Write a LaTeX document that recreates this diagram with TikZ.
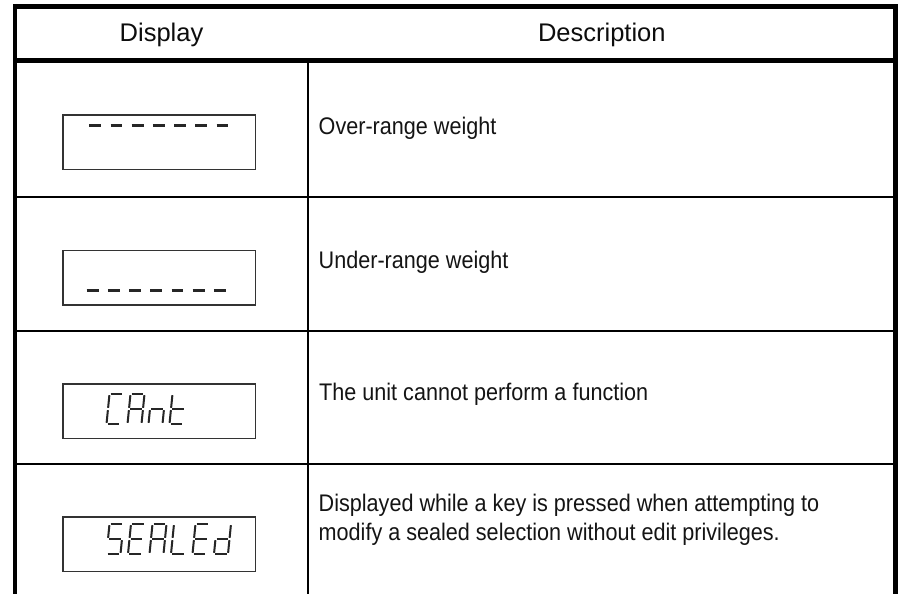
\documentclass[tikz,border=0pt]{standalone}
\usepackage{fontspec}
\setmainfont{Liberation Sans}
\newfontfamily\narrowfont[FakeStretch=0.9]{Liberation Sans}

% seven-segment strokes inside a 30 unit tall, slightly slanted cell
% (origin = top-left of the cell, y grows downward)
\newcommand\sgA{\draw[segline] (4.2,0)--(15.8,0);}
\newcommand\sgB{\draw[segline] (16.88,1.2)--(15.62,13.8);}
\newcommand\sgC{\draw[segline] (15.38,16.2)--(14.12,28.8);}
\newcommand\sgD{\draw[segline] (1.2,30)--(12.8,30);}
\newcommand\sgE{\draw[segline] (1.38,16.2)--(0.12,28.8);}
\newcommand\sgF{\draw[segline] (2.88,1.2)--(1.62,13.8);}
\newcommand\sgG{\draw[segline] (2.7,15)--(14.3,15);}
% letters
\newcommand\lcC{\sgA\sgD\sgE\sgF}
\newcommand\lcA{\sgA\sgB\sgC\sgE\sgF\sgG}
\newcommand\lcn{\sgC\sgE\sgG}
\newcommand\lct{\sgD\sgE\sgF\sgG}
\newcommand\lcS{\sgA\sgC\sgD\sgF\sgG}
\newcommand\lcE{\sgA\sgD\sgE\sgF\sgG}
\newcommand\lcL{\sgD\sgE\sgF}
\newcommand\lcd{\sgB\sgC\sgD\sgE\sgG}
\newcommand\lcdchar[3]{\begin{scope}[shift={(#1,#2)}]#3\end{scope}}

\begin{document}
\begin{tikzpicture}[x=1pt,y=-1pt,
  frame/.style={line width=5pt,black,line join=miter},
  grid/.style={line width=2pt,black},
  dispbox/.style={draw=black!80,line width=1.3pt,minimum width=192.5pt,minimum height=54.5pt,inner sep=0pt},
  dashseg/.style={line width=3pt,black!85},
  segline/.style={line width=2pt,black!85,line cap=butt},
  head/.style={inner sep=0pt,font=\fontsize{25.5}{30}\selectfont,text=black!95},
  desc/.style={inner sep=0pt,anchor=base west,font=\narrowfont\fontsize{24}{29}\selectfont,text=black!92}]
\useasboundingbox (0,0) rectangle (903,594);
\fill[white] (0,0) rectangle (903,594);

% table rules
\draw[grid] (15,196.7) -- (895.5,196.7);
\draw[grid] (15,330.7) -- (895.5,330.7);
\draw[grid] (15,464) -- (895.5,464);
\draw[grid] (308.3,60) -- (308.3,594);
\draw[frame] (15,60.3) -- (895.5,60.3);
\draw[frame] (895.5,594) -- (895.5,6.3) -- (15,6.3);
\draw[line width=4pt] (15,4) -- (15,594);

% header
\node[head,anchor=base] (hdisp) at (161.5,41.5) {Display};
\node[head,anchor=base] (hdesc) at (601.8,41.5) {Description};

% displays
\node[dispbox] (box1) at (159.2,142.2) {};
\node[dispbox] (box2) at (159.2,277.7) {};
\node[dispbox] (box3) at (159.2,411.3) {};
\node[dispbox] (box4) at (159.2,544.3) {};

\foreach \i in {0,...,6}{
  \draw[dashseg] ({89.3+21.2*\i},125) -- ++(11.8,0);
  \draw[dashseg] ({86.7+21.2*\i},290.7) -- ++(11.8,0);
}

% CAnt
\lcdchar{106.5}{394}{\lcC}
\lcdchar{127.5}{394}{\lcA}
\lcdchar{148.5}{394}{\lcn}
\lcdchar{169.5}{394}{\lct}
% SEALEd
\lcdchar{106.5}{524}{\lcS}
\lcdchar{128}{524}{\lcE}
\lcdchar{149.5}{524}{\lcA}
\lcdchar{171}{524}{\lcL}
\lcdchar{192.5}{524}{\lcE}
\lcdchar{214}{524}{\lcd}

% descriptions
\node[desc] (d1) at (318.5,134) {Over-range weight};
\node[desc] (d2) at (318.5,268.3) {Under-range weight};
\node[desc] (d3) at (319,400.7) {The unit cannot perform a function};
\node[desc] (d4a) at (318.5,511.5) {Displayed while a key is pressed when attempting to};
\node[desc] (d4b) at (318.5,540.5) {modify a sealed selection without edit privileges.};
\end{tikzpicture}
\end{document}
